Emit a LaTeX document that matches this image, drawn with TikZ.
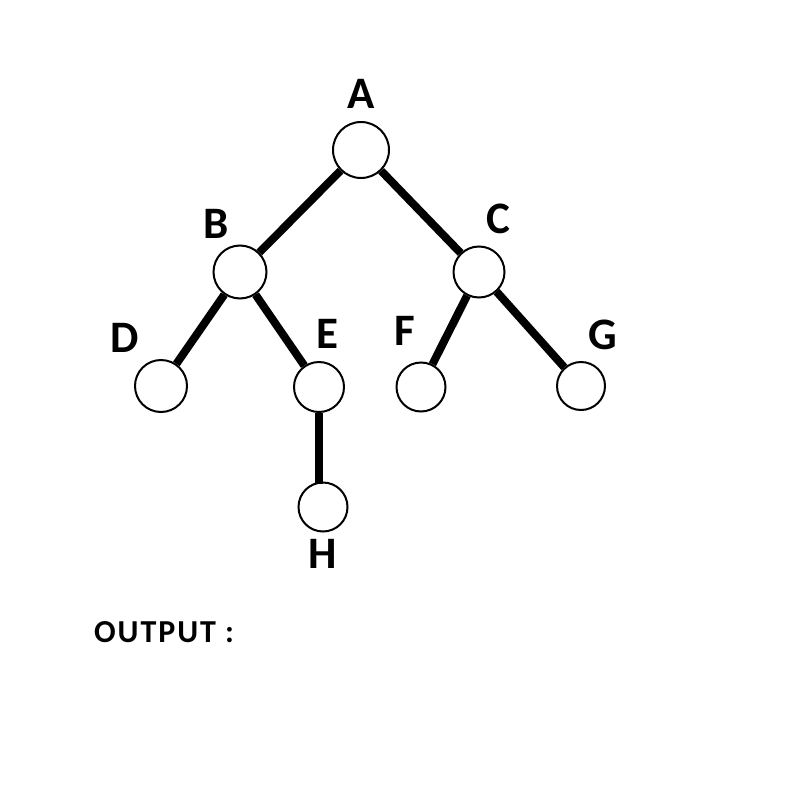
\documentclass[tikz,border=0pt]{standalone}
\usepackage{fontspec}
\setmainfont{Carlito}
\begin{document}
\begin{tikzpicture}[x=1pt,y=-1pt,
  vertex/.style={circle,draw=black,line width=2pt,fill=white,inner sep=0pt},
  edge/.style={line width=8pt},
  lbl/.style={font=\fontsize{45}{45}\selectfont\bfseries,inner sep=0pt,anchor=base},
  caption/.style={font=\fontsize{32}{32}\selectfont\bfseries\addfontfeature{LetterSpace=6},inner sep=0pt,anchor=base west}]
  \useasboundingbox[fill=white] (0,0) rectangle (800,800);
  % tree vertices
  \node[vertex,minimum size=56pt] (A) at (361,150) {};
  \node[vertex,minimum size=53pt] (B) at (240,272) {};
  \node[vertex,minimum size=51pt] (C) at (479,272) {};
  \node[vertex,minimum size=52pt] (D) at (161,386) {};
  \node[vertex,minimum size=50pt] (E) at (319,387) {};
  \node[vertex,minimum size=49pt] (F) at (421,387) {};
  \node[vertex,minimum size=48pt] (G) at (581,386) {};
  \node[vertex,minimum size=49pt] (H) at (323,507) {};
  \coordinate (Htop) at (319,484);
  % branches
  \draw[edge] (A) -- (B);
  \draw[edge] (A) -- (C);
  \draw[edge] (B) -- (D);
  \draw[edge] (B) -- (E);
  \draw[edge] (C) -- (F);
  \draw[edge] (C) -- (G);
  \draw[edge] (E.south) -- (Htop);
  % vertex names
  \node[lbl] (lA) at (361,108) {A};
  \node[lbl] (lB) at (216,238) {B};
  \node[lbl] (lC) at (498,233) {C};
  \node[lbl] (lD) at (125,352) {D};
  \node[lbl] (lE) at (327,348) {E};
  \node[lbl] (lF) at (405,345) {F};
  \node[lbl] (lG) at (603,349) {G};
  \node[lbl] (lH) at (323,568) {H};
  \node[caption] (out) at (94,642) {OUTPUT :};
\end{tikzpicture}
\end{document}
